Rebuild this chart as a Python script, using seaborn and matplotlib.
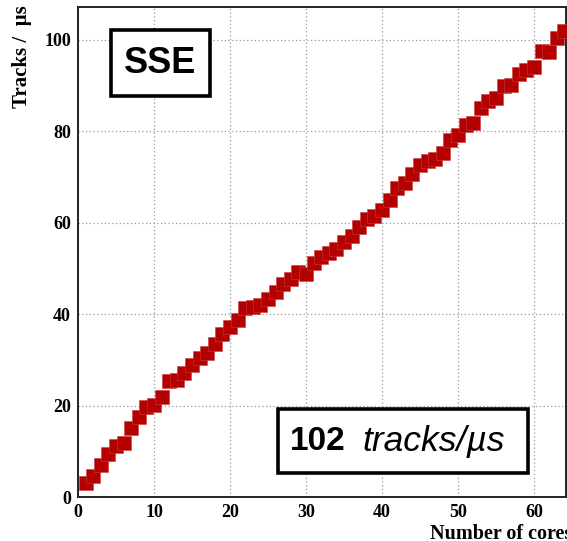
import matplotlib
matplotlib.use("Agg")
import matplotlib.pyplot as plt
from matplotlib.patches import Rectangle
from matplotlib.ticker import MultipleLocator
import seaborn as sns
import pandas as pd

# Throughput measured for each number of cores
cores = list(range(1, 65))
tracks_per_us = [
    3.1, 4.7, 7.1, 9.3, 11.2, 11.9, 15.2, 17.5, 19.6, 20.1,
    21.9, 25.3, 25.6, 27.2, 28.8, 30.5, 31.5, 33.4, 35.6, 37.1,
    38.8, 41.3, 41.5, 41.9, 43.4, 44.9, 46.5, 47.6, 49.2, 48.7,
    51.1, 52.6, 53.4, 54.2, 55.8, 57.0, 59.1, 60.9, 61.4, 62.7,
    64.9, 67.6, 68.6, 70.6, 72.6, 73.5, 74.0, 75.3, 78.1, 79.1,
    81.3, 81.8, 85.2, 86.7, 87.4, 89.9, 90.2, 92.6, 93.5, 94.1,
    97.5, 97.4, 100.5, 102.0,
]
peak_label = "102"
instr_label = "SSE"

df = pd.DataFrame({"cores": cores, "tracks": tracks_per_us})

sns.set_style("white")
plt.rcParams["font.family"] = ["Liberation Serif", "DejaVu Serif"]
plt.rcParams["text.color"] = "black"
plt.rcParams["xtick.color"] = "black"
plt.rcParams["ytick.color"] = "black"

W, H = 567, 541
fig = plt.figure(figsize=(W / 100, H / 100), dpi=100)
ax = fig.add_axes([78 / W, 1 - 497 / H, (566 - 78) / W, (497 - 7) / H])

sns.scatterplot(data=df, x="cores", y="tracks", ax=ax, marker="s", s=90,
                color="#b40000", edgecolor="#c83c3c", linewidth=0.4,
                zorder=3, clip_on=True)

ax.set_xlim(0, 64.2)
ax.set_ylim(0, 107.2)
ax.xaxis.set_major_locator(MultipleLocator(10))
ax.xaxis.set_minor_locator(MultipleLocator(2))
ax.yaxis.set_major_locator(MultipleLocator(20))
ax.yaxis.set_minor_locator(MultipleLocator(5))
ax.tick_params(axis="both", which="major", direction="in", length=9,
               width=1.2, color="#333333", labelsize=13, pad=5,
               labelcolor="black")
ax.tick_params(axis="both", which="minor", direction="in", length=5,
               width=1.0, color="#333333")
for lab in ax.get_xticklabels() + ax.get_yticklabels():
    lab.set_fontweight("bold")

ax.grid(True, which="major", linestyle=(0, (1, 2)), color="#999999",
        linewidth=0.9)
for sp in ax.spines.values():
    sp.set_visible(True)
    sp.set_color("#222222")
    sp.set_linewidth(1.4)

ax.set_xlabel("")
ax.set_ylabel("")
fig.text(22 / W, 1 - 5 / H, "Tracks /  µs", rotation=90, ha="center",
         va="top", fontsize=15, fontweight="bold")
fig.text(430 / W, 1 - 524 / H, "Number of cores", ha="left", va="top",
         fontsize=14.5, fontweight="bold")

sans = ["Liberation Sans", "DejaVu Sans"]


def framed(x0, y0, x1, y1):
    fig.patches.append(Rectangle((x0 / W, 1 - y1 / H), (x1 - x0) / W,
                                 (y1 - y0) / H, transform=fig.transFigure,
                                 facecolor="white", edgecolor="black",
                                 linewidth=2.6, zorder=5))


framed(111, 30, 210, 96)
fig.text(160.5 / W, 1 - 64 / H, instr_label, ha="center", va="center",
         fontsize=26, fontweight="bold", family=sans, zorder=6)

framed(278, 409, 528, 473)
fig.text(290 / W, 1 - 442 / H, peak_label, ha="left", va="center",
         fontsize=24, fontweight="bold", family=sans, zorder=6)
fig.text(362 / W, 1 - 442 / H, "tracks/µs", ha="left", va="center",
         fontsize=25.5, style="italic", family=sans, zorder=6)

fig.savefig("out.png", dpi=100)
